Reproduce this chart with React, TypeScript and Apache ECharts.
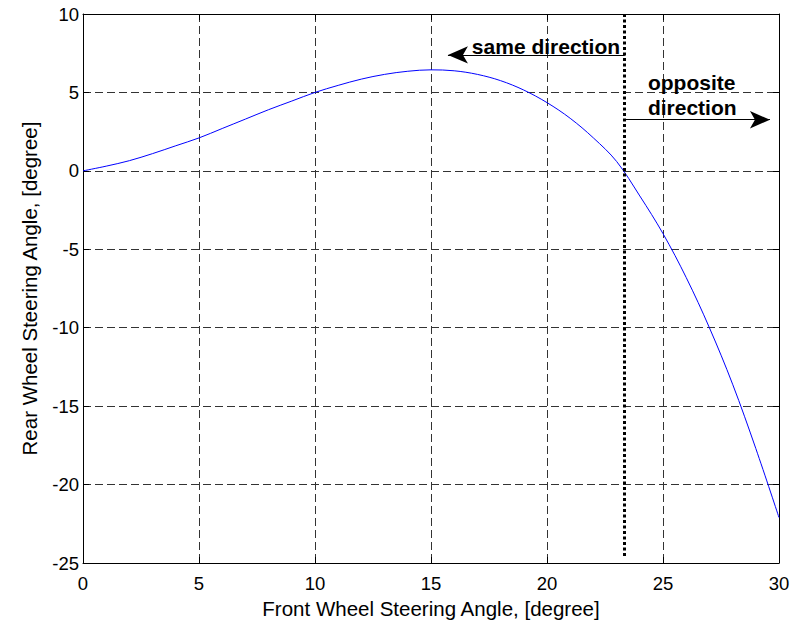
import React, { useEffect, useRef } from "react";
import * as echarts from "echarts";

// Data
const frontAngle = [0, 1, 2, 3, 4, 5, 6, 7, 8, 9, 10, 11, 12, 13, 14, 15, 16, 17, 18, 19, 20, 21, 22, 23, 24, 25, 26, 27, 28, 29, 30];
const rearAngle = [0, 0.3, 0.65, 1.1, 1.6, 2.1, 2.7, 3.3, 3.9, 4.45, 5.0, 5.45, 5.85, 6.15, 6.35, 6.44, 6.38, 6.15, 5.75, 5.15, 4.35, 3.35, 2.1, 0.6, -1.6, -4.0, -6.8, -10, -13.6, -17.7, -22.1];

const xTicks = { min: 0, max: 30, interval: 5 };
const yTicks = { min: -25, max: 10, interval: 5 };

const dividerX = 23.35;
const dividerY = [10, -24.7];

const arrowStarts = [[23.35, 7.39], [23.35, 3.26]];
const arrowEnds = [[15.73, 7.39], [29.61, 3.26]];

const noteTexts = ["same direction", "opposite", "direction"];
const notePoints = [[23.15, 7.95], [24.35, 5.66], [24.35, 4.07]];
const notePositions = ["left", "right", "right"];

const xName = "Front Wheel Steering Angle, [degree]";
const yName = "Rear Wheel Steering Angle, [degree]";

const FONT = "'Liberation Sans', Arial, sans-serif";

export default function App() {
  const ref = useRef<HTMLDivElement>(null);

  useEffect(() => {
    document.body.style.margin = "0";
    const chart = echarts.init(ref.current!, null, { renderer: "svg" });
    const gridColor = "#333";
    const baseX = {
      type: "value",
      min: xTicks.min,
      max: xTicks.max,
      interval: xTicks.interval,
      axisLine: { show: true, onZero: false, lineStyle: { color: "#000", width: 1 } },
      axisTick: { show: true, inside: true, length: 6, lineStyle: { color: "#000" } },
    };
    const baseY = {
      type: "value",
      min: yTicks.min,
      max: yTicks.max,
      interval: yTicks.interval,
      axisLine: { show: true, onZero: false, lineStyle: { color: "#000", width: 1 } },
      axisTick: { show: true, inside: true, length: 6, lineStyle: { color: "#000" } },
    };
    chart.setOption({
      animation: false,
      backgroundColor: "#fff",
      textStyle: { fontFamily: FONT },
      grid: { left: 83, top: 14, width: 696, height: 549, containLabel: false, outerBoundsMode: "none" },
      xAxis: [
        {
          ...baseX,
          position: "bottom",
          name: xName,
          nameLocation: "middle",
          nameGap: 32,
          nameTextStyle: { fontSize: 20.5, color: "#000", fontFamily: FONT },
          axisLabel: { show: true, margin: 11, fontSize: 18.5, color: "#000", fontFamily: FONT },
          splitLine: { show: true, lineStyle: { color: gridColor, type: [8, 4], width: 1 } },
        },
        {
          ...baseX,
          position: "top",
          axisLabel: { show: false },
          splitLine: { show: false },
        },
      ],
      yAxis: [
        {
          ...baseY,
          position: "left",
          name: yName,
          nameLocation: "middle",
          nameGap: 43,
          nameTextStyle: { fontSize: 20.5, color: "#000", fontFamily: FONT },
          axisLabel: { show: true, margin: 4, fontSize: 18.5, color: "#000", fontFamily: FONT },
          splitLine: { show: true, lineStyle: { color: gridColor, type: [8, 4], width: 1 } },
        },
        {
          ...baseY,
          position: "right",
          axisLabel: { show: false },
          splitLine: { show: false },
        },
      ],
      series: [
        {
          type: "line",
          data: frontAngle.map((x, i) => [x, rearAngle[i]]),
          showSymbol: false,
          smooth: 0.35,
          lineStyle: { color: "#0000ff", width: 1 },
          silent: true,
          z: 3,
          markLine: {
            silent: true,
            animation: false,
            label: { show: false },
            emphasis: { disabled: true },
            data: [
              [
                { coord: [dividerX, dividerY[0]], symbol: "none", lineStyle: { color: "#000", width: 3, type: [3, 2.5] } },
                { coord: [dividerX, dividerY[1]], symbol: "none" },
              ],
              ...arrowStarts.map((s, i) => [
                { coord: s, symbol: "none", lineStyle: { color: "#000", width: 1.2, type: "solid" } },
                { coord: arrowEnds[i], symbol: "arrow", symbolSize: [13, 20] },
              ]),
            ],
          },
        },
        {
          type: "scatter",
          data: notePoints.map((p, i) => ({
            value: p,
            label: {
              show: true,
              formatter: noteTexts[i],
              position: notePositions[i],
              distance: 0,
              fontSize: 21,
              fontWeight: "bold",
              color: "#000",
              opacity: 1,
              textBorderWidth: 0,
              fontFamily: FONT,
            },
          })),
          symbolSize: 0,
          silent: true,
          itemStyle: { color: "#000", opacity: 1 },
          z: 5,
        },
      ],
    });
    return () => chart.dispose();
  }, []);

  return <div ref={ref} style={{ position: "fixed", left: 0, top: 0, width: 792, height: 626 }} />;
}
